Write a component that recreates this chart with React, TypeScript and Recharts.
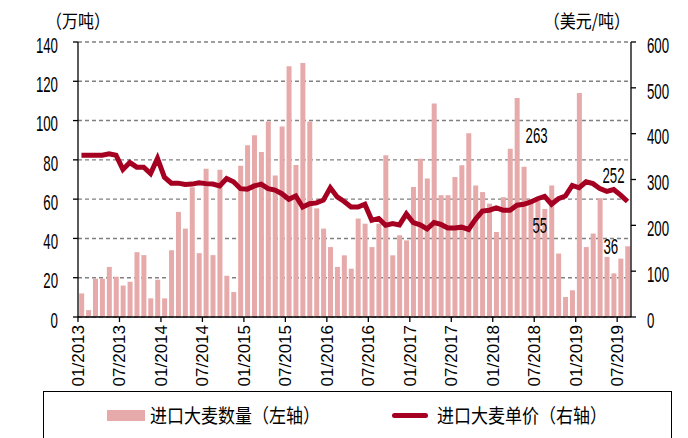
import React from "react";
import { Bar, CartesianGrid, ComposedChart, LabelList, Line, XAxis, YAxis } from "recharts";

const months = [
  "01/2013", "02/2013", "03/2013", "04/2013", "05/2013", "06/2013", "07/2013", "08/2013", "09/2013", "10/2013", "11/2013", "12/2013",
  "01/2014", "02/2014", "03/2014", "04/2014", "05/2014", "06/2014", "07/2014", "08/2014", "09/2014", "10/2014", "11/2014", "12/2014",
  "01/2015", "02/2015", "03/2015", "04/2015", "05/2015", "06/2015", "07/2015", "08/2015", "09/2015", "10/2015", "11/2015", "12/2015",
  "01/2016", "02/2016", "03/2016", "04/2016", "05/2016", "06/2016", "07/2016", "08/2016", "09/2016", "10/2016", "11/2016", "12/2016",
  "01/2017", "02/2017", "03/2017", "04/2017", "05/2017", "06/2017", "07/2017", "08/2017", "09/2017", "10/2017", "11/2017", "12/2017",
  "01/2018", "02/2018", "03/2018", "04/2018", "05/2018", "06/2018", "07/2018", "08/2018", "09/2018", "10/2018", "11/2018", "12/2018",
  "01/2019", "02/2019", "03/2019", "04/2019", "05/2019", "06/2019", "07/2019", "08/2019",
];

// 进口大麦数量, 万吨
const qty = [
  12, 3.5, 19.5, 19.5, 25.5, 20.5, 16, 18, 33, 31.5, 9.5, 19,
  9.5, 34, 53.5, 45, 66, 32.5, 75.5, 31.5, 75, 21, 12.7, 77,
  87.5, 92.5, 84, 99.5, 72, 97, 127.6, 77.4, 129.3, 99.5, 55.3, 45,
  35.6, 25.5, 31.4, 24.6, 50.1, 47.5, 35.6, 47.5, 82.3, 31.4, 41.6, 39,
  66.2, 80.6, 70.5, 108.7, 62, 62, 71.3, 77.2, 93.5, 67, 63.6, 57.7,
  43.3, 61, 85.7, 111.5, 76.5, 60, 59, 55, 67, 32.3, 10.2, 13.6,
  114, 35.6, 42.5, 60.5, 30.6, 22.2, 29.7, 36,
];

// 进口大麦单价, 美元/吨
const price = [
  353, 353, 353, 353, 356, 353, 322, 337, 327, 327, 313, 346,
  305, 292, 292, 289, 290, 293, 291, 290, 286, 302, 295, 280,
  279, 286, 290, 280, 277, 269, 257, 264, 240, 247, 249, 255,
  282, 262, 252, 240, 240, 246, 211, 215, 200, 204, 201, 225,
  206, 201, 192, 206, 202, 194, 194, 196, 191, 213, 231, 233,
  238, 233, 233, 244, 246, 251, 258, 263, 246, 258, 264, 287,
  282, 295, 291, 280, 274, 278, 266, 252,
];

const noteMonths = ["08/2018", "08/2019"];
const leftTicks = [0, 20, 40, 60, 80, 100, 120, 140];
const rightTicks = [0, 100, 200, 300, 400, 500, 600];

const rows = months.map((m, i) => ({
  month: m,
  qty: qty[i],
  price: price[i],
  qtyNote: noteMonths.includes(m) ? qty[i] : null,
  priceNote: noteMonths.includes(m) ? price[i] : null,
}));

const BAR = "#E7AAAA";
const LINE = "#A50021";
const NUM_FONT = "'Liberation Sans', Arial, sans-serif";
const CJK_FONT = "'Noto Sans CJK SC', sans-serif";
const AXIS_Y = 317;
const BAND = 553 / 80;

const priceOffsets: Record<string, [number, number]> = { "08/2018": [-8, -61], "08/2019": [-14, -26] };
const qtyOffsets: Record<string, [number, number]> = { "08/2018": [-5, 16], "08/2019": [-17, 0] };

function NumText({ x, y, anchor, children }: any) {
  return (
    <g transform={`translate(${x},${y}) scale(0.78,1.3)`}>
      <text x={0} y={0} dy="0.35em" textAnchor={anchor} fontFamily={NUM_FONT} fontSize={17} fill="#000">
        {children}
      </text>
    </g>
  );
}

function LeftTick(props: any) {
  const { x, y, payload } = props;
  return <NumText x={x} y={y + 3} anchor="end">{payload.value}</NumText>;
}

function RightTick(props: any) {
  const { x, y, payload } = props;
  return <NumText x={x} y={y + 3} anchor="start">{payload.value}</NumText>;
}

function MonthTick(props: any) {
  const { x, payload } = props;
  const x0 = x - BAND / 2;
  return (
    <g>
      <line x1={x0} y1={AXIS_Y} x2={x0} y2={AXIS_Y + 5} stroke="#000" strokeWidth={1.3} />
      <g transform={`translate(${x0},${AXIS_Y + 8}) rotate(-90)`}>
        <text x={0} y={0} dy="0.35em" textAnchor="end" fontFamily={NUM_FONT} fontSize={17} fill="#000">
          {payload.value}
        </text>
      </g>
    </g>
  );
}

function PriceNote(props: any) {
  const { x, y, value, index } = props;
  if (value == null) return null;
  const [dx, dy] = priceOffsets[months[index]] || [0, -20];
  return <NumText x={x + dx} y={y + dy} anchor="middle">{value}</NumText>;
}

function QtyNote(props: any) {
  const { x, y, width, value, index } = props;
  if (value == null) return null;
  const [dx, dy] = qtyOffsets[months[index]] || [0, -10];
  return <NumText x={x + width / 2 + dx} y={y + dy} anchor="middle">{value}</NumText>;
}

const cjk = (extra: React.CSSProperties): React.CSSProperties => ({
  position: "absolute",
  fontFamily: CJK_FONT,
  whiteSpace: "nowrap",
  transform: "scaleY(1.15)",
  ...extra,
});

export default function App() {
  return (
    <div style={{ position: "absolute", left: 0, top: 0, width: 688, height: 438, overflow: "hidden", background: "#fff" }}>
      <ComposedChart
        width={688}
        height={438}
        data={rows}
        margin={{ top: 42, right: 0, bottom: 0, left: 0 }}
        barCategoryGap="17%"
      >
        <CartesianGrid yAxisId="left" vertical={false} stroke="#808080" strokeDasharray="4 3" strokeWidth={1.4} />
        <XAxis
          dataKey="month"
          interval={5}
          height={121}
          tickLine={false}
          axisLine={{ stroke: "#000", strokeWidth: 1.3 }}
          tick={<MonthTick />}
        />
        <YAxis
          yAxisId="left"
          width={78}
          domain={[0, 140]}
          ticks={leftTicks}
          interval={0}
          tickSize={5}
          tickMargin={15}
          axisLine={{ stroke: "#000", strokeWidth: 1.3 }}
          tickLine={{ stroke: "#000", strokeWidth: 1.3 }}
          tick={<LeftTick />}
        />
        <YAxis
          yAxisId="right"
          orientation="right"
          width={57}
          domain={[0, 600]}
          ticks={rightTicks}
          interval={0}
          tickSize={5}
          tickMargin={11}
          axisLine={{ stroke: "#000", strokeWidth: 1.3 }}
          tickLine={{ stroke: "#000", strokeWidth: 1.3 }}
          tick={<RightTick />}
        />
        <Bar yAxisId="left" dataKey="qty" fill={BAR} isAnimationActive={false}>
          <LabelList dataKey="qtyNote" content={<QtyNote />} />
        </Bar>
        <Line
          yAxisId="right"
          dataKey="price"
          type="linear"
          stroke={LINE}
          strokeWidth={5}
          dot={false}
          isAnimationActive={false}
        >
          <LabelList dataKey="priceNote" content={<PriceNote />} />
        </Line>
      </ComposedChart>

      <div style={cjk({ left: 46, top: 9, fontSize: 16, lineHeight: "22px" })}>（万吨）</div>
      <div style={cjk({ right: 58, top: 9, fontSize: 16, lineHeight: "22px" })}>（美元/吨）</div>

      <div style={{ position: "absolute", left: 43, top: 391, width: 629, height: 80, border: "1px solid #000", boxSizing: "border-box" }} />
      <div style={{ position: "absolute", left: 107, top: 410, width: 38, height: 11, background: BAR }} />
      <div style={cjk({ left: 150, top: 404, fontSize: 17, lineHeight: "22px" })}>进口大麦数量（左轴）</div>
      <div style={{ position: "absolute", left: 392, top: 413, width: 36, height: 5, borderRadius: 3, background: LINE }} />
      <div style={cjk({ left: 437, top: 404, fontSize: 17, lineHeight: "22px" })}>进口大麦单价（右轴）</div>
    </div>
  );
}
